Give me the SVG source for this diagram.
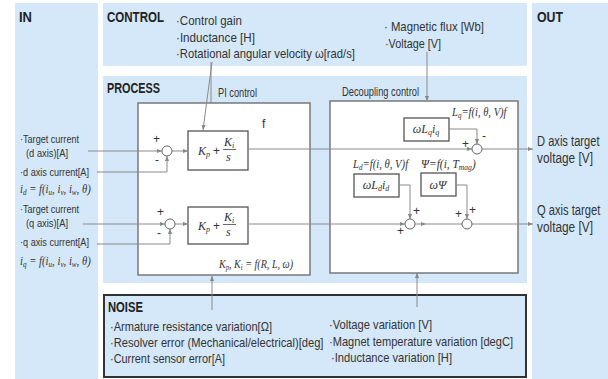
<svg xmlns="http://www.w3.org/2000/svg" width="608" height="379" viewBox="0 0 608 379">
<defs>
<style>
.panel{fill:#d5e8f9}
.box{fill:#fff;stroke:#666;stroke-width:1.3}
.blk{fill:#fff;stroke:#555;stroke-width:1.3}
.ln{fill:none;stroke:#8a8a8a;stroke-width:1}
.sum{fill:#fff;stroke:#666;stroke-width:1}
.hd{font-family:'Liberation Sans',Arial,sans-serif;font-weight:bold;font-size:15px;fill:#222}
.tx{font-family:'Liberation Sans',Arial,sans-serif;font-size:13px;fill:#333}
.sm{font-size:11.5px}
.m{font-family:'Liberation Serif','Times New Roman',serif;font-style:italic;font-size:12px;fill:#333}
.sg{font-family:'Liberation Sans',Arial,sans-serif;font-size:12px;fill:#333}
</style>
<marker id="ah" viewBox="0 0 6 6" refX="6" refY="3" markerWidth="5" markerHeight="5" orient="auto" markerUnits="userSpaceOnUse"><path d="M0,0.5 L6,3 L0,5.5 z" fill="#888"/></marker>
</defs>
<rect width="608" height="379" fill="#fff"/>

<g id="in">
<rect class="panel" x="15" y="3" width="83" height="376"/>
<text class="hd" x="19" y="22" textLength="13" lengthAdjust="spacingAndGlyphs">IN</text>
<text class="tx sm" x="20" y="143" textLength="59" lengthAdjust="spacingAndGlyphs">·Target current</text>
<text class="tx sm" x="26" y="157" textLength="42" lengthAdjust="spacingAndGlyphs">(d axis)[A]</text>
<text class="tx sm" x="20" y="176" textLength="69" lengthAdjust="spacingAndGlyphs">·d axis current[A]</text>
<text class="m" transform="translate(20,193) scale(0.89,1)">i<tspan font-size="8" dy="2">d</tspan><tspan dy="-2"> = f(i</tspan><tspan font-size="8" dy="2">u</tspan><tspan dy="-2">, i</tspan><tspan font-size="8" dy="2">v</tspan><tspan dy="-2">, i</tspan><tspan font-size="8" dy="2">w</tspan><tspan dy="-2">, θ)</tspan></text>
<text class="tx sm" x="20" y="213" textLength="59" lengthAdjust="spacingAndGlyphs">·Target current</text>
<text class="tx sm" x="26" y="227" textLength="42" lengthAdjust="spacingAndGlyphs">(q axis)[A]</text>
<text class="tx sm" x="20" y="246" textLength="69" lengthAdjust="spacingAndGlyphs">·q axis current[A]</text>
<text class="m" transform="translate(20,265) scale(0.89,1)">i<tspan font-size="8" dy="2">q</tspan><tspan dy="-2"> = f(i</tspan><tspan font-size="8" dy="2">u</tspan><tspan dy="-2">, i</tspan><tspan font-size="8" dy="2">v</tspan><tspan dy="-2">, i</tspan><tspan font-size="8" dy="2">w</tspan><tspan dy="-2">, θ)</tspan></text>
</g>

<g id="control">
<rect class="panel" x="103" y="3" width="424" height="63"/>
<text class="hd" x="107" y="22" textLength="57" lengthAdjust="spacingAndGlyphs">CONTROL</text>
<text class="tx" x="176" y="25" textLength="66" lengthAdjust="spacingAndGlyphs">·Control gain</text>
<text class="tx" x="176" y="42" textLength="79" lengthAdjust="spacingAndGlyphs">·Inductance [H]</text>
<text class="tx" x="176" y="58" textLength="179" lengthAdjust="spacingAndGlyphs">·Rotational angular velocity ω[rad/s]</text>
<text class="tx" x="384" y="31" textLength="100" lengthAdjust="spacingAndGlyphs">· Magnetic flux [Wb]</text>
<text class="tx" x="385" y="48" textLength="56" lengthAdjust="spacingAndGlyphs">·Voltage [V]</text>
</g>

<g id="out">
<rect class="panel" x="532" y="3" width="76" height="376"/>
<text class="hd" x="537" y="22" textLength="26" lengthAdjust="spacingAndGlyphs">OUT</text>
<text class="tx" style="font-size:15px" transform="translate(537,146) scale(0.743,1)">D axis target</text>
<text class="tx" style="font-size:15px" transform="translate(537,163) scale(0.79,1)">voltage [V]</text>
<text class="tx" style="font-size:15px" transform="translate(537,215) scale(0.745,1)">Q axis target</text>
<text class="tx" style="font-size:15px" transform="translate(537,232) scale(0.79,1)">voltage [V]</text>
</g>

<g id="process">
<rect class="panel" x="103" y="76" width="424" height="207"/>
<text class="hd" x="107" y="93" textLength="53" lengthAdjust="spacingAndGlyphs">PROCESS</text>
</g>

<g id="noise">
<rect x="104" y="295" width="422" height="82" fill="#d5e8f9" stroke="#333" stroke-width="2"/>
<text class="hd" x="108" y="312" textLength="35" lengthAdjust="spacingAndGlyphs">NOISE</text>
<text class="tx" x="110" y="331" textLength="162" lengthAdjust="spacingAndGlyphs">·Armature resistance variation[Ω]</text>
<text class="tx" transform="translate(110,347) scale(0.86,1)">·Resolver error (Mechanical/electrical)[deg]</text>
<text class="tx" x="110" y="363" textLength="115" lengthAdjust="spacingAndGlyphs">·Current sensor error[A]</text>
<text class="tx" x="329" y="329" textLength="103" lengthAdjust="spacingAndGlyphs">·Voltage variation [V]</text>
<text class="tx" x="329" y="346" textLength="184" lengthAdjust="spacingAndGlyphs">·Magnet temperature variation [degC]</text>
<text class="tx" x="331" y="362" textLength="121" lengthAdjust="spacingAndGlyphs">·Inductance variation [H]</text>
</g>

<g id="connectors">
<line class="ln" x1="211" y1="62" x2="211" y2="207" marker-end="url(#ah)"/>
</g>

<g id="pi-control">
<rect class="box" x="138" y="103" width="172" height="172"/>
<text class="tx" style="font-size:12px" x="218" y="97" textLength="39" lengthAdjust="spacingAndGlyphs">PI control</text>
<text class="tx" style="font-size:12px" x="262" y="128">f</text>
<text class="m" transform="translate(219,268) scale(0.84,1)">K<tspan font-size="8" dy="2">p</tspan><tspan dy="-2">, K</tspan><tspan font-size="8" dy="2">i</tspan><tspan dy="-2"> = f(R, L, ω)</tspan></text>
</g>

<g id="pi-d">
<rect class="blk" x="188" y="131" width="60" height="39"/>
<text class="m" x="198" y="155">K<tspan font-size="8" dy="2">p</tspan></text>
<text class="sg" x="213" y="155">+</text>
<text class="m" x="224" y="146">K<tspan font-size="8" dy="2">i</tspan></text>
<line x1="223" y1="149.5" x2="236" y2="149.5" stroke="#444" stroke-width="0.8"/>
<text class="m" x="226" y="161">s</text>
</g>

<g id="pi-q">
<rect class="blk" x="188" y="207" width="60" height="37"/>
<text class="m" x="198" y="230">K<tspan font-size="8" dy="2">p</tspan></text>
<text class="sg" x="213" y="230">+</text>
<text class="m" x="224" y="221">K<tspan font-size="8" dy="2">i</tspan></text>
<line x1="223" y1="224.5" x2="236" y2="224.5" stroke="#444" stroke-width="0.8"/>
<text class="m" x="226" y="236">s</text>
</g>

<g id="decoupling">
<rect class="box" x="330" y="101" width="188" height="172"/>
<text class="tx" style="font-size:12px" x="342" y="96" textLength="77" lengthAdjust="spacingAndGlyphs">Decoupling control</text>
<text class="m" transform="translate(452,116) scale(0.88,1)">L<tspan font-size="8" dy="2">q</tspan><tspan dy="-2">=f(i, θ, V)f</tspan></text>
<text class="m" transform="translate(353,168) scale(0.89,1)">L<tspan font-size="8" dy="2">d</tspan><tspan dy="-2">=f(i, θ, V)f</tspan></text>
<text class="m" transform="translate(421,168) scale(0.95,1)">Ψ=f(i, T<tspan font-size="8" dy="2">mag</tspan><tspan dy="-2">)</tspan></text>
</g>

<g id="wlqiq">
<rect class="blk" x="404" y="118" width="45" height="23"/>
<text class="m" x="426" y="133" text-anchor="middle">ωL<tspan font-size="8" dy="2">q</tspan><tspan dy="-2">i</tspan><tspan font-size="8" dy="2">q</tspan></text>
</g>
<g id="wldid">
<rect class="blk" x="354" y="174" width="45" height="23"/>
<text class="m" x="376" y="189" text-anchor="middle">ωL<tspan font-size="8" dy="2">d</tspan><tspan dy="-2">i</tspan><tspan font-size="8" dy="2">d</tspan></text>
</g>
<g id="wpsi">
<rect class="blk" x="421" y="173" width="35" height="23"/>
<text class="m" x="438" y="189" text-anchor="middle">ωΨ</text>
</g>

<g id="connectors2">
<line class="ln" x1="212" y1="62" x2="203" y2="130" marker-end="url(#ah)"/>
<line class="ln" x1="427" y1="52" x2="427" y2="101" marker-end="url(#ah)"/>
<line class="ln" x1="212" y1="310" x2="212" y2="276" marker-end="url(#ah)"/>
<line class="ln" x1="417" y1="307" x2="417" y2="273" marker-end="url(#ah)"/>
<line class="ln" x1="88" y1="151" x2="162" y2="151" marker-end="url(#ah)"/>
<polyline class="ln" points="97,172 167,172 167,156" marker-end="url(#ah)"/>
<line class="ln" x1="172" y1="151" x2="188" y2="151" marker-end="url(#ah)"/>
<line class="ln" x1="248" y1="149" x2="472" y2="149" marker-end="url(#ah)"/>
<line class="ln" x1="482" y1="149" x2="533" y2="149" marker-end="url(#ah)"/>
<polyline class="ln" points="449,129 477,129 477,144" marker-end="url(#ah)"/>
<line class="ln" x1="83" y1="224" x2="165" y2="224" marker-end="url(#ah)"/>
<polyline class="ln" points="97,244 170,244 170,229" marker-end="url(#ah)"/>
<line class="ln" x1="175" y1="224" x2="188" y2="224" marker-end="url(#ah)"/>
<line class="ln" x1="248" y1="224" x2="405" y2="224" marker-end="url(#ah)"/>
<line class="ln" x1="415" y1="224" x2="426" y2="224" marker-end="url(#ah)"/>
<line class="ln" x1="426" y1="224" x2="462" y2="224"/>
<line class="ln" x1="472" y1="224" x2="533" y2="224" marker-end="url(#ah)"/>
<polyline class="ln" points="399,185 410,185 410,219" marker-end="url(#ah)"/>
<polyline class="ln" points="456,185 467,185 467,219" marker-end="url(#ah)"/>
</g>

<g id="sum-d1">
<circle class="sum" cx="167" cy="151" r="5"/>
<text class="sg" x="153" y="143">+</text>
<text class="sg" x="155" y="164">-</text>
</g>
<g id="sum-q1">
<circle class="sum" cx="170" cy="224" r="5"/>
<text class="sg" x="157" y="216">+</text>
<text class="sg" x="157" y="237">-</text>
</g>
<g id="sum-d2">
<circle class="sum" cx="477" cy="149" r="5"/>
<text class="sg" x="462" y="148">+</text>
<text class="sg" x="482" y="140">-</text>
</g>
<g id="sum-q2">
<circle class="sum" cx="410" cy="224" r="5"/>
<text class="sg" x="413" y="215">+</text>
<text class="sg" x="397" y="235">+</text>
</g>
<g id="sum-q3">
<circle class="sum" cx="467" cy="224" r="5"/>
<text class="sg" x="469" y="214">+</text>
<text class="sg" x="455" y="218">+</text>
</g>
</svg>
